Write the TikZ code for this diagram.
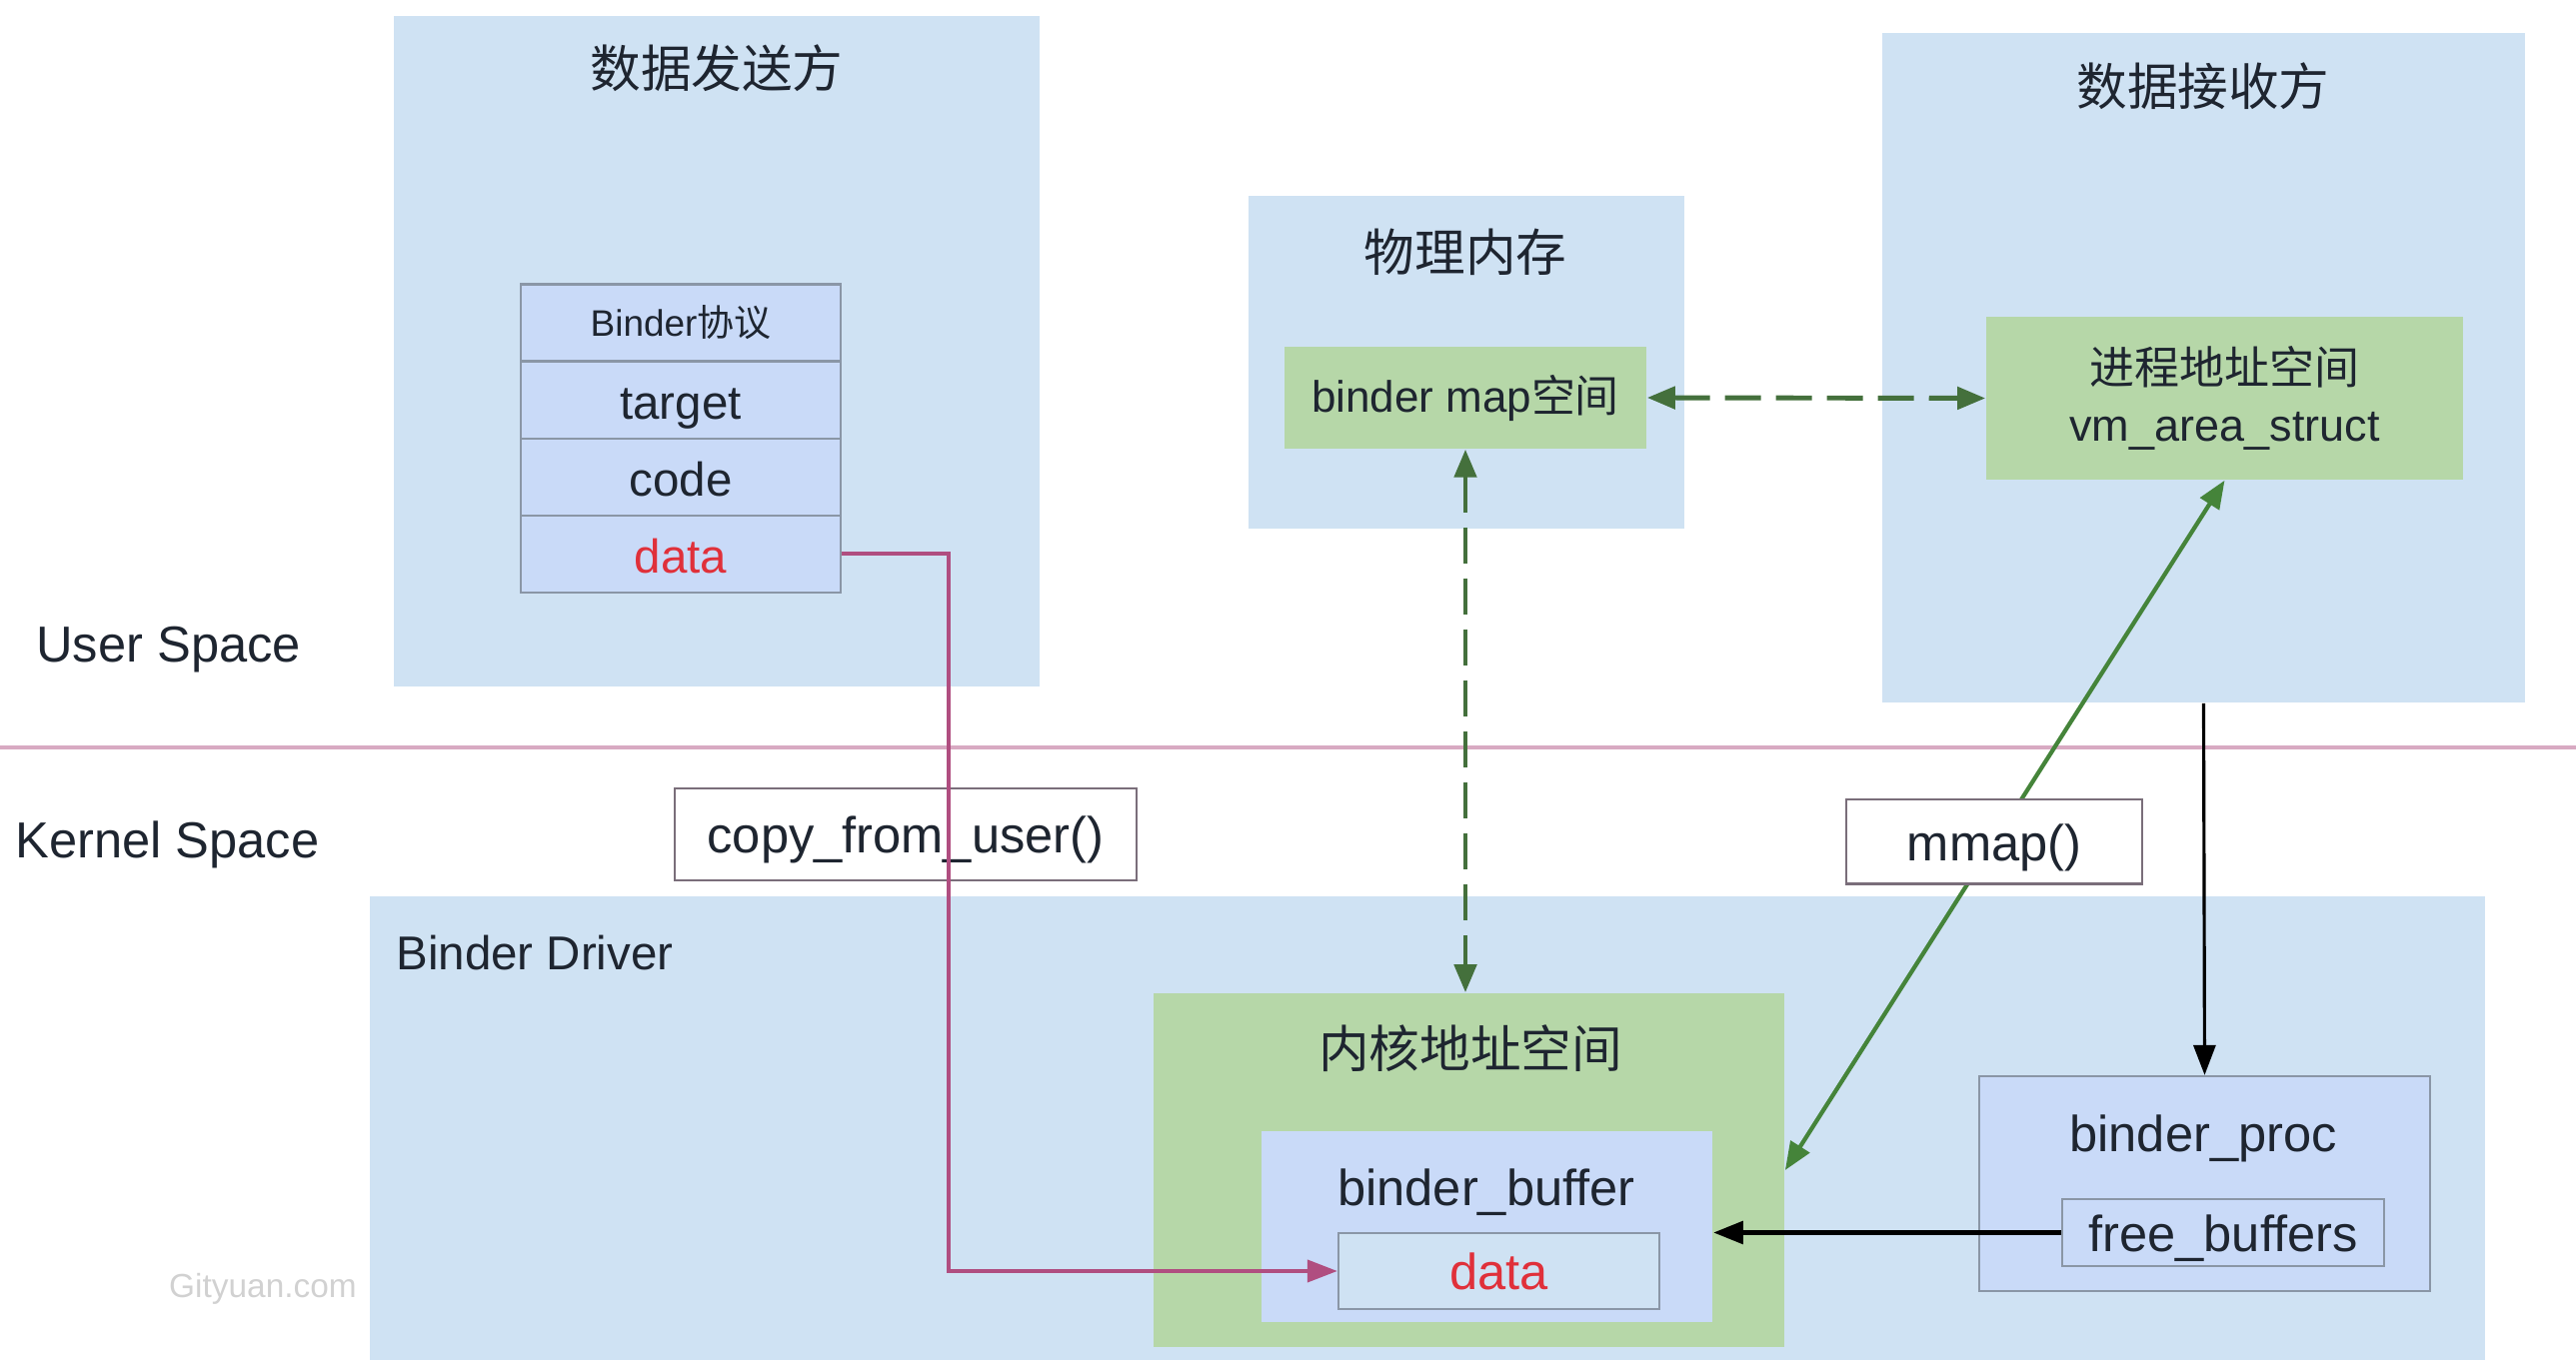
\documentclass[tikz,border=0pt]{standalone}
\usepackage{fontspec}
\setmainfont{Liberation Sans}
\newfontfamily\cjk{Noto Sans CJK SC}
\usetikzlibrary{arrows.meta}
\definecolor{boxblue}{HTML}{CFE2F3}
\definecolor{boxgreen}{HTML}{B6D7A8}
\definecolor{boxlav}{HTML}{C9DAF8}
\definecolor{linegray}{HTML}{8A96A6}
\definecolor{callgray}{HTML}{7A6E7A}
\definecolor{arrowpink}{HTML}{B04E80}
\definecolor{splitpink}{HTML}{D8AAC2}
\definecolor{arrowgreen}{HTML}{45843A}
\definecolor{dashgreen}{HTML}{44703C}
\definecolor{datared}{HTML}{E0303A}
\definecolor{textdark}{HTML}{1E2530}

\begin{document}
\begin{tikzpicture}[x=0.01cm, y=-0.01cm, node distance=0.77cm,
    space box/.style={fill=boxblue, inner sep=0pt},
    green box/.style={fill=boxgreen, inner sep=0pt},
    lav box/.style={fill=boxlav, draw=linegray, line width=0.6pt, inner sep=0pt},
    latin text/.style={text height=10.8pt, text depth=0pt},
    cell node/.style={lav box, minimum width=3.2cm, minimum height=0.77cm, font=\fontsize{13.5}{16}\selectfont},
    call node/.style={fill=white, draw=callgray, line width=0.6pt, inner sep=0pt, text=textdark, latin text},
    one head/.style={-{Triangle[length=0.3cm,width=0.22cm]}},
    two heads/.style={{Triangle[length=0.28cm,width=0.22cm]}-{Triangle[length=0.28cm,width=0.22cm]}}]
  \tikzstyle{every node}=[font=\fontsize{14.4}{17}\selectfont, text=textdark]
  \useasboundingbox (0,0) rectangle (2577,1361);

  % user space
  \node[space box, minimum width=6.46cm, minimum height=6.71cm] (send) at (717,351.5) {};
  \node[space box, minimum width=4.36cm, minimum height=3.33cm] (phys) at (1467,362.5) {};
  \node[space box, minimum width=6.43cm, minimum height=6.70cm] (recv) at (2204.5,368) {};
  \node (sendt) at (717,68) {\cjk 数据发送方};
  \node (physt) at (1466,252) {\cjk 物理内存};
  \node (recvt) at (2204,86) {\cjk 数据接收方};

  \node[cell node, font=\fontsize{10.5}{12}\selectfont] (proto) at (681,323) {Binder{\cjk 协议}};
  \node[cell node, latin text] (target) [below of=proto] {target};
  \node[cell node, latin text] (code) [below of=target] {code};
  \node[cell node, latin text, text=datared] (sdata) [below of=code] {data};

  \node[green box, minimum width=3.62cm, minimum height=1.02cm, font=\fontsize{12.5}{15}\selectfont] (map) at (1466,398) {binder map{\cjk 空间}};
  \node[green box, minimum width=4.77cm, minimum height=1.63cm, align=center, font=\fontsize{12.8}{16}\selectfont] (vm) at (2225.5,398.5) {{\cjk 进程地址空间}\\vm\_area\_struct};

  \draw[splitpink, line width=0.9pt] (0,748) -- (2577,748);
  \node[anchor=west, latin text] (user) at (24,644) {User Space};
  \node[anchor=west, latin text] (kspace) at (3,840) {Kernel Space};

  % kernel space
  \node[space box, minimum width=21.14cm, minimum height=4.64cm] (drv) at (1428,1129) {};
  \node[anchor=west, latin text, font=\fontsize{13.5}{16}\selectfont] (drvt) at (384,952) {Binder Driver};
  \node[text=black!18, font=\fontsize{9.5}{11}\selectfont] (mark) at (263,1290) {Gityuan.com};

  \node[green box, minimum width=6.31cm, minimum height=3.54cm] (kern) at (1469.5,1171) {};
  \node (kernt) at (1471,1049) {\cjk 内核地址空间};
  \node[fill=boxlav, inner sep=0pt, minimum width=4.51cm, minimum height=1.91cm] (buf) at (1487.5,1227.5) {};
  \node[latin text] (buft) at (1487,1188) {binder\_buffer};
  \node[space box, latin text, draw=linegray, line width=0.6pt, minimum width=3.21cm, minimum height=0.76cm, text=datared] (kdata) at (1499.5,1272) {data};

  \node[lav box, minimum width=4.51cm, minimum height=2.15cm] (proc) at (2205.5,1184.5) {};
  \node[latin text] (proct) at (2204,1134) {binder\_proc};
  \node[lav box, latin text, minimum width=3.22cm, minimum height=0.67cm] (free) at (2224,1233.5) {free\_buffers};

  \node[call node, minimum width=4.62cm, minimum height=0.92cm] (copy) at (906,835) {copy\_from\_user()};

  % connectors
  \draw[arrowpink, line width=1.1pt, one head] (sdata.east) -- ++(107,0) |- (kdata.west);
  \path[dashgreen, line width=1.4pt, dash pattern=on 0.36cm off 0.15cm, two heads]
    (map.south) edge (map.south |- kern.north)
    (map.east) edge (vm.west);
  \path[arrowgreen, line width=1.2pt, two heads]
    (kern.east) edge node[call node, pos=0.476, minimum width=2.96cm, minimum height=0.84cm] (mmap) {mmap()} (vm.south);
  \path[black, line width=0.9pt, one head] (recv.south) edge (proc.north);
  \path[black, line width=1.6pt, one head] (free.west) edge (free.west -| buf.east);
\end{tikzpicture}
\end{document}
